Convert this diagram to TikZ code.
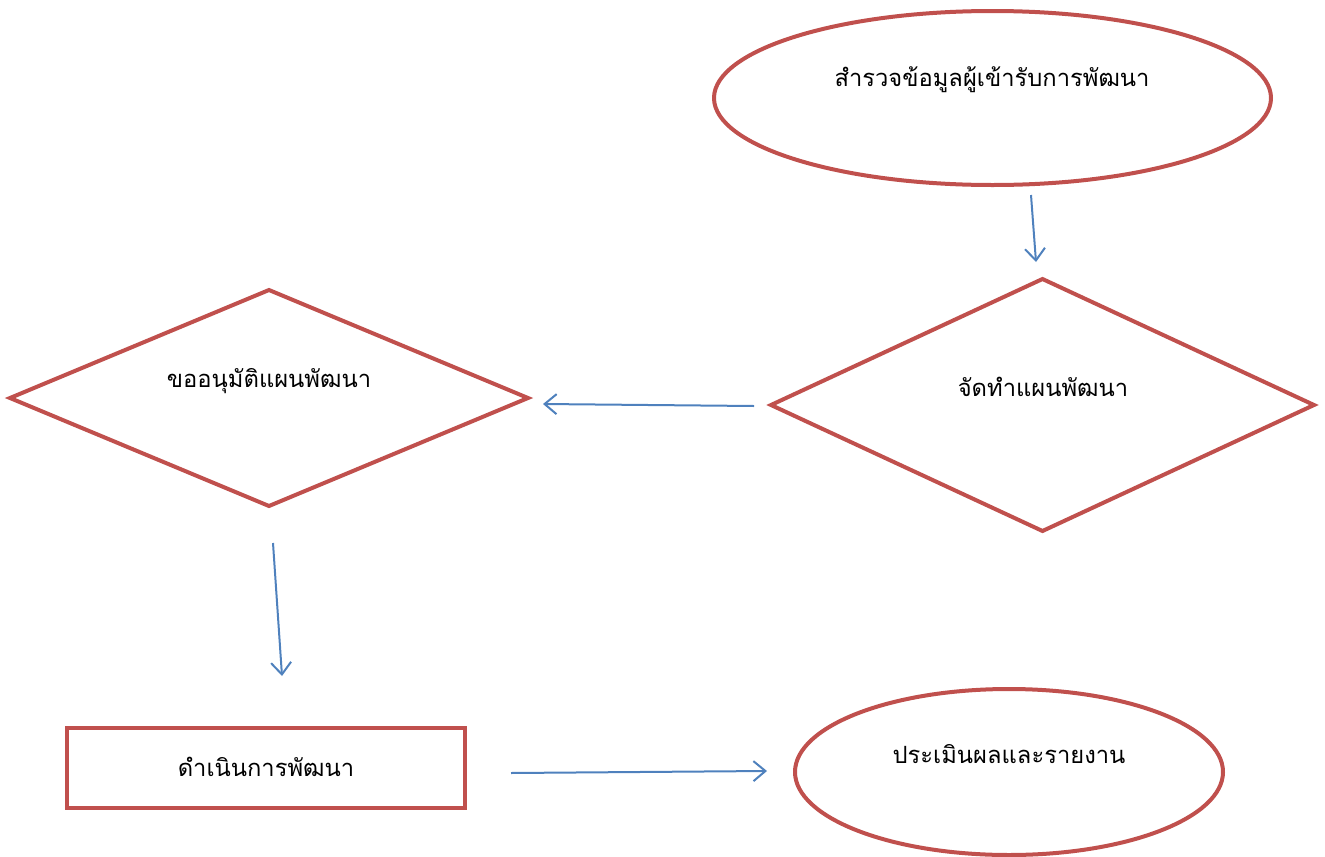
\documentclass[tikz,border=0pt]{standalone}
\usepackage{fontspec}
\newfontfamily\thaifont[Script=Thai]{Loma}
\usetikzlibrary{shapes.geometric,arrows.meta}
\definecolor{shapered}{HTML}{C0504D}
\definecolor{arrowblue}{HTML}{4F81BD}
\newdimen\pxu \pxu=0.75pt
\tikzset{
  shapeline/.style={draw=shapered, line width=3pt, inner sep=0pt, outer sep=0pt},
  ovalbox/.style={shapeline, ellipse},
  decisionbox/.style={shapeline, diamond},
  processbox/.style={shapeline, rectangle},
  textlabel/.style={font=\thaifont\fontsize{17.8}{21}\selectfont, inner sep=0pt},
  flow/.style={draw=arrowblue, line width=1.5pt, -{Straight Barb[length=9pt,width=15pt,line width=1.5pt]}},
}
\begin{document}
\begin{tikzpicture}[x=0.75pt,y=-0.75pt]
\useasboundingbox (0,0) rectangle (1325,857);
% shapes
\node[ovalbox, minimum width=557\pxu, minimum height=174\pxu] (survey) at (992.5,98) {};
\node[decisionbox, minimum width=543\pxu, minimum height=252\pxu] (plan) at (1042.5,405) {};
\node[decisionbox, minimum width=518\pxu, minimum height=216\pxu] (approve) at (269,398) {};
\node[processbox, minimum width=398\pxu, minimum height=80\pxu] (run) at (266,768) {};
\node[ovalbox, minimum width=428\pxu, minimum height=166\pxu] (evaluate) at (1009,772) {};
% texts
\node[textlabel] (surveyT) at (992,80) {สำรวจข้อมูลผู้เข้ารับการพัฒนา};
\node[textlabel] (planT) at (1043,387) {จัดทำแผนพัฒนา};
\node[textlabel] (approveT) at (269,381) {ขออนุมัติแผนพัฒนา};
\node[textlabel] (runT) at (266,767) {ดำเนินการพัฒนา};
\node[textlabel] (evaluateT) at (1009,754) {ประเมินผลและรายงาน};
% connector ends
\coordinate (a1) at (1031,195);
\coordinate (a2) at (1036,262);
\coordinate (b1) at (754,406);
\coordinate (b2) at (543,404);
\coordinate (c1) at (273,543);
\coordinate (c2) at (282,676);
\coordinate (d1) at (511,773);
\coordinate (d2) at (767,771);
\draw[flow] (a1) -- (a2);
\draw[flow] (b1) -- (b2);
\draw[flow] (c1) -- (c2);
\draw[flow] (d1) -- (d2);
\end{tikzpicture}
\end{document}
